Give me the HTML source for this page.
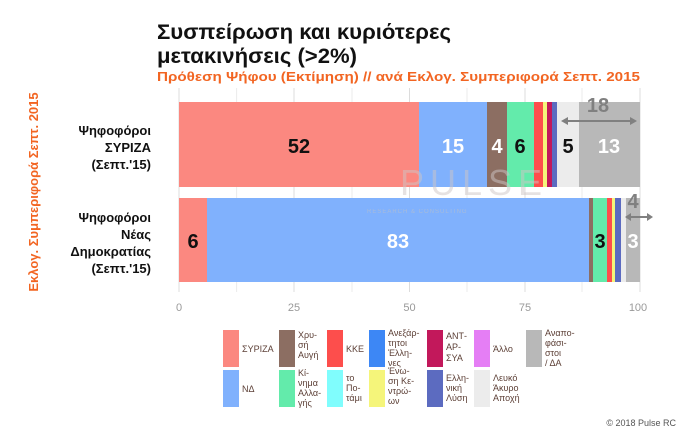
<!DOCTYPE html>
<html><head><meta charset="utf-8"><style>
body{margin:0;background:#fff;}
svg text{font-family:"Liberation Sans","Noto Sans CJK SC",sans-serif;}
</style></head><body>
<svg width="700" height="432" xmlns="http://www.w3.org/2000/svg">
<rect width="700" height="432" fill="#fff"/>
<text x="157" y="39" font-size="21" font-weight="bold" fill="#111" textLength="294" lengthAdjust="spacingAndGlyphs">Συσπείρωση και κυριότερες</text>
<text x="157" y="63" font-size="21" font-weight="bold" fill="#111" textLength="200" lengthAdjust="spacingAndGlyphs">μετακινήσεις (&gt;2%)</text>
<text x="157" y="81" font-size="13" font-weight="bold" fill="#f26522" textLength="483" lengthAdjust="spacingAndGlyphs">Πρόθεση Ψήφου (Εκτίμηση) // ανά Εκλογ. Συμπεριφορά Σεπτ. 2015</text>
<text transform="translate(38,192) rotate(-90)" text-anchor="middle" font-size="13" font-weight="bold" fill="#f26522">Εκλογ. Συμπεριφορά Σεπτ. 2015</text>
<g font-size="13" font-weight="bold" fill="#111" text-anchor="end">
<text x="151" y="135">Ψηφοφόροι</text><text x="151" y="152">ΣΥΡΙΖΑ</text><text x="151" y="169">(Σεπτ.'15)</text>
<text x="151" y="222">Ψηφοφόροι</text><text x="151" y="239">Νέας</text><text x="151" y="256">Δημοκρατίας</text><text x="151" y="273">(Σεπτ.'15)</text>
</g>
<g stroke="#ebebeb" stroke-width="1">
<line x1="236.6" y1="88" x2="236.6" y2="292"/><line x1="352" y1="88" x2="352" y2="292"/><line x1="467" y1="88" x2="467" y2="292"/><line x1="582" y1="88" x2="582" y2="292"/>
</g>
<g stroke="#dcdcdc" stroke-width="1">
<line x1="179" y1="88" x2="179" y2="292"/><line x1="294" y1="88" x2="294" y2="292"/><line x1="409.5" y1="88" x2="409.5" y2="292"/><line x1="525" y1="88" x2="525" y2="292"/><line x1="640" y1="88" x2="640" y2="292"/>
</g>
<g>
<rect x="179" y="102" width="240" height="85" fill="#fb8880"/>
<rect x="419" y="102" width="68" height="85" fill="#80b1fd"/>
<rect x="487" y="102" width="20" height="85" fill="#8c6e62"/>
<rect x="507" y="102" width="27" height="85" fill="#63ebab"/>
<rect x="534" y="102" width="9" height="85" fill="#fd4e4c"/>
<rect x="543" y="102" width="4" height="85" fill="#f5f57a"/>
<rect x="547" y="102" width="5" height="85" fill="#c2185b"/>
<rect x="552" y="102" width="5" height="85" fill="#5c6bc0"/>
<rect x="557" y="102" width="22" height="85" fill="#ececec"/>
<rect x="579" y="102" width="61" height="85" fill="#b8b8b8"/>
</g>
<g>
<rect x="179" y="198" width="28" height="84" fill="#fb8880"/>
<rect x="207" y="198" width="382" height="84" fill="#80b1fd"/>
<rect x="589" y="198" width="4" height="84" fill="#8c6e62"/>
<rect x="593" y="198" width="14" height="84" fill="#63ebab"/>
<rect x="607" y="198" width="5" height="84" fill="#fd4e4c"/>
<rect x="612" y="198" width="3" height="84" fill="#f5f57a"/>
<rect x="615" y="198" width="6" height="84" fill="#5c6bc0"/>
<rect x="621" y="198" width="5" height="84" fill="#ececec"/>
<rect x="626" y="198" width="14" height="84" fill="#b8b8b8"/>
</g>
<text x="400" y="195" font-size="36" fill="#cfc6c6" opacity="0.5" letter-spacing="6">PULSE</text>
<text x="367" y="213" font-size="6" fill="#b8c0cc" opacity="0.7" letter-spacing="1">RESEARCH &amp; CONSULTING</text>
<g font-size="20" font-weight="bold" text-anchor="middle">
<text x="299" y="153" fill="#111">52</text>
<text x="453" y="153" fill="#fff">15</text>
<text x="497" y="153" fill="#fff">4</text>
<text x="520" y="153" fill="#111">6</text>
<text x="568" y="153" fill="#111">5</text>
<text x="609" y="153" fill="#fff">13</text>
<text x="193" y="248" fill="#111">6</text>
<text x="398" y="248" fill="#fff">83</text>
<text x="600" y="248" fill="#111">3</text>
<text x="633" y="248" fill="#fff">3</text>
<text x="598" y="112" fill="#808080">18</text>
<text x="633" y="208" fill="#808080">4</text>
</g>
<g stroke="#808080" stroke-width="2" fill="#808080">
<line x1="564" y1="121" x2="634" y2="121"/>
<path d="M561 121 l7 -4 v8 z M637 121 l-7 -4 v8 z" stroke="none"/>
<line x1="628" y1="217" x2="650" y2="217"/>
<path d="M625 217 l6 -4 v8 z M653 217 l-6 -4 v8 z" stroke="none"/>
</g>
<g font-size="11" fill="#999" text-anchor="middle">
<text x="179" y="311">0</text><text x="294" y="311">25</text><text x="409.5" y="311">50</text><text x="525" y="311">75</text><text x="638" y="311">100</text>
</g>
<g>
<rect x="223" y="330" width="16" height="37" fill="#fb8880"/>
<rect x="223" y="370" width="16" height="37" fill="#80b1fd"/>
<rect x="279" y="330" width="16" height="37" fill="#8c6e62"/>
<rect x="279" y="370" width="16" height="37" fill="#63ebab"/>
<rect x="327" y="330" width="16" height="37" fill="#fd4e4c"/>
<rect x="327" y="370" width="16" height="37" fill="#80fdfd"/>
<rect x="369" y="330" width="16" height="37" fill="#3d87f5"/>
<rect x="369" y="370" width="16" height="37" fill="#f5f57a"/>
<rect x="427" y="330" width="16" height="37" fill="#c2185b"/>
<rect x="427" y="370" width="16" height="37" fill="#5c6bc0"/>
<rect x="474" y="330" width="16" height="37" fill="#e57ef5"/>
<rect x="474" y="370" width="16" height="37" fill="#ececec"/>
<rect x="526" y="330" width="16" height="37" fill="#b8b8b8"/>
</g>
<g font-size="9" fill="#5d4037">
<text x="242" y="352">ΣΥΡΙΖΑ</text>
<text x="242" y="392">ΝΔ</text>
<text x="298" y="338">Χρυ-</text><text x="298" y="348">σή</text><text x="298" y="358">Αυγή</text>
<text x="298" y="376">Κί-</text><text x="298" y="386">νημα</text><text x="298" y="396">Αλλα-</text><text x="298" y="406">γής</text>
<text x="346" y="352">ΚΚΕ</text>
<text x="346" y="381">το</text><text x="346" y="391">Πο-</text><text x="346" y="401">τάμι</text>
<text x="388" y="336">Ανεξάρ-</text><text x="388" y="346">τητοι</text><text x="388" y="356">Έλλη-</text><text x="388" y="366">νες</text>
<text x="388" y="374">Ένω-</text><text x="388" y="384">ση Κε-</text><text x="388" y="394">ντρώ-</text><text x="388" y="404">ων</text>
<text x="446" y="339">ΑΝΤ-</text><text x="446" y="350">ΑΡ-</text><text x="446" y="361">ΣΥΑ</text>
<text x="446" y="381">Ελλη-</text><text x="446" y="391">νική</text><text x="446" y="401">Λύση</text>
<text x="493" y="352">Άλλο</text>
<text x="493" y="381">Λευκό</text><text x="493" y="391">Άκυρο</text><text x="493" y="401">Αποχή</text>
<text x="545" y="336">Αναπο-</text><text x="545" y="346">φάσι-</text><text x="545" y="356">στοι</text><text x="545" y="366">/ ΔΑ</text>
</g>
<text x="676" y="426" font-size="9" fill="#555" text-anchor="end">© 2018 Pulse RC</text>
</svg>
</body></html>
